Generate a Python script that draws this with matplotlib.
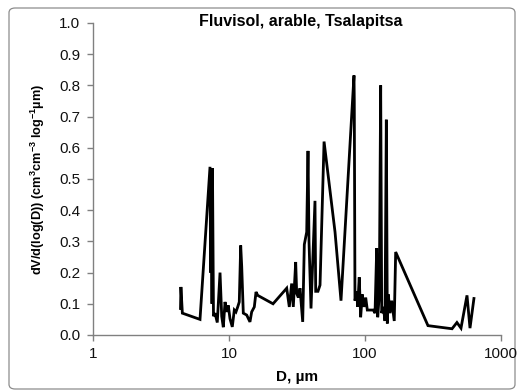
import matplotlib
matplotlib.use("Agg")
import matplotlib.pyplot as plt
from matplotlib.patches import FancyBboxPatch

plt.rcParams['font.family'] = ['Liberation Sans', 'DejaVu Sans']
plt.rcParams['mathtext.fontset'] = 'custom'
plt.rcParams['mathtext.rm'] = 'Liberation Sans'
plt.rcParams['mathtext.bf'] = 'Liberation Sans:bold'

title = "Fluvisol, arable, Tsalapitsa"
x_label = "D, µm"
y_ticks = [0.0, 0.1, 0.2, 0.3, 0.4, 0.5, 0.6, 0.7, 0.8, 0.9, 1.0]
x_ticks = [1, 10, 100, 1000]

diameter = [4.40, 4.43, 4.54, 6.12, 7.25, 7.33, 7.41, 7.50, 7.56, 7.69,
            7.89, 8.20, 8.59, 8.84, 9.08, 9.35, 9.62, 9.88, 10.17, 10.57,
            10.94, 11.25, 11.59, 11.90, 12.19, 12.40, 12.74, 13.49, 14.26, 14.68,
            15.35, 15.80, 16.26, 21.08, 26.56, 27.76, 28.89, 29.70, 30.93, 31.46,
            32.34, 33.27, 34.83, 35.79, 37.27, 38.10, 38.75, 40.08, 42.88, 43.40,
            45.10, 46.70, 50.00, 60.20, 66.60, 83.00, 83.40, 84.40, 86.80, 88.30,
            90.70, 92.90, 95.50, 98.30, 101.2, 104.0, 115.1, 118.5, 121.9, 124.0,
            127.4, 130.4, 132.7, 136.4, 140.3, 143.5, 145.9, 148.4, 152.7, 157.1,
            164.1, 168.1, 290.4, 436.5, 474.2, 508.0, 562.3, 591.6, 632.4]
dv = [0.085, 0.154, 0.070, 0.050, 0.539, 0.200, 0.520, 0.100, 0.534, 0.060,
      0.070, 0.040, 0.200, 0.060, 0.025, 0.106, 0.074, 0.095, 0.052, 0.026,
      0.080, 0.074, 0.090, 0.106, 0.287, 0.220, 0.070, 0.064, 0.042, 0.074,
      0.090, 0.138, 0.127, 0.100, 0.150, 0.090, 0.165, 0.090, 0.234, 0.133,
      0.120, 0.150, 0.042, 0.290, 0.330, 0.590, 0.300, 0.085, 0.430, 0.140,
      0.140, 0.160, 0.620, 0.330, 0.110, 0.832, 0.750, 0.110, 0.140, 0.090,
      0.185, 0.057, 0.130, 0.090, 0.120, 0.080, 0.080, 0.070, 0.278, 0.057,
      0.130, 0.800, 0.070, 0.090, 0.045, 0.690, 0.037, 0.130, 0.070, 0.110,
      0.045, 0.266, 0.030, 0.020, 0.040, 0.022, 0.127, 0.022, 0.117]

fig = plt.figure(figsize=(5.2, 3.91), dpi=100)
frame = FancyBboxPatch((9/520, 2/391), 506/520, 381/391,
                       boxstyle="round,pad=0,rounding_size=0.012",
                       transform=fig.transFigure, facecolor='white',
                       edgecolor='#8c8c8c', linewidth=0.9, zorder=-10)
fig.patches.append(frame)

ax = fig.add_axes([93/520, 56/391, 408/520, 312/391])
ax.set_facecolor('none')
ax.plot(diameter, dv, color='black', linewidth=2.0, solid_joinstyle='miter')
ax.set_xscale('log')
ax.set_xlim(1, 1000)
ax.set_ylim(0, 1.0)
ax.set_xticks(x_ticks)
ax.set_xticklabels([str(v) for v in x_ticks])
ax.minorticks_off()
ax.set_yticks(y_ticks)
ax.set_yticklabels([f"{v:.1f}" for v in y_ticks])
for s in ['top', 'right']:
    ax.spines[s].set_visible(False)
for s in ['left', 'bottom']:
    ax.spines[s].set_color('#808080')
    ax.spines[s].set_linewidth(1.0)
ax.tick_params(axis='both', direction='out', length=4, width=1.0, color='#808080',
               labelsize=11, labelcolor='#111111')
ax.tick_params(axis='x', pad=5)
ax.tick_params(axis='y', pad=5)

ax.text(0.508, 1.006, title, transform=ax.transAxes, fontsize=11.5,
        fontweight='bold', ha='center', va='center')
ax.set_xlabel(x_label, fontsize=11, fontweight='bold', labelpad=6)
ax.set_ylabel(r"dV/d(log(D)) (cm$^{\mathbf{3}}$cm$^{\mathbf{-3}}$ log$^{\mathbf{-1}}$µm)",
              fontsize=9.2, fontweight='bold', labelpad=9)

fig.savefig("out.png", dpi=100)
